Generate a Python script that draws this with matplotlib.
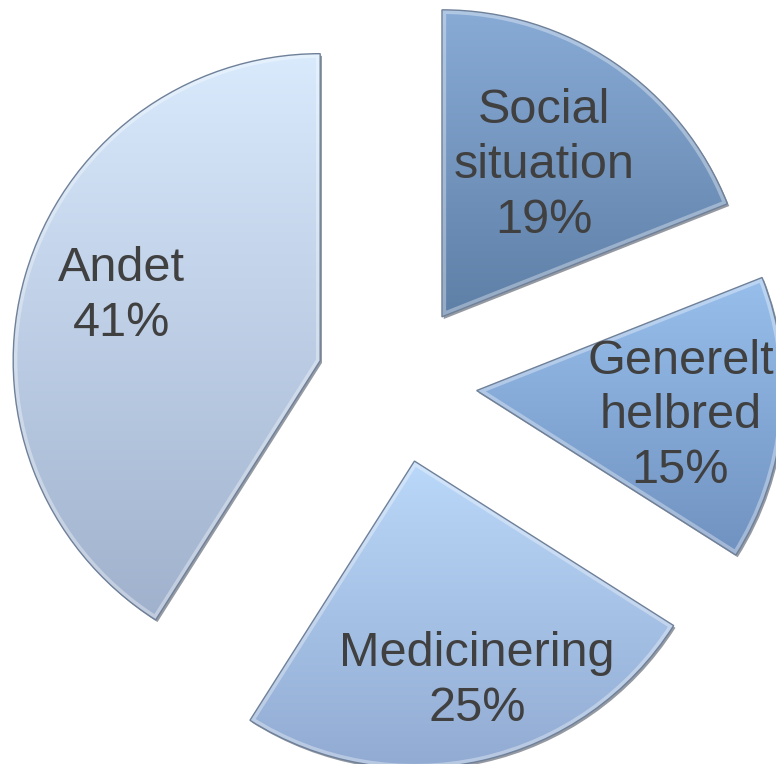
import matplotlib.pyplot as plt
import numpy as np
from matplotlib.colors import to_rgb
from matplotlib.patches import Wedge

# data
labels = ['Social\nsituation', 'Generelt\nhelbred', 'Medicinering', 'Andet']
shares = [19, 15, 25, 41]

# styles
top_colors = ['#88abd6', '#98bfec', '#bad8f9', '#d9eafd']
bottom_colors = ['#5e7fa6', '#7092c0', '#90a9d1', '#a0b1cd']
label_frac = [0.62, 0.67, 0.74, 0.70]
label_shift = [(-5, -6), (-1, -6), (13, 2), (8, 5)]

W, H = 776, 764
fig = plt.figure(figsize=(W / 100, H / 100), dpi=100)
ax = fig.add_axes([0, 0, 1, 1])

R = 307
# explode is in data units here (axes are in pixels)
wedges, _ = ax.pie(shares, startangle=90, counterclock=False, radius=R,
                   center=(397, H - 383), explode=[80] * 4,
                   wedgeprops=dict(edgecolor='#6f8099', linewidth=1.0))

for w, lab, val, c_top, c_bot, f, (dx, dy) in zip(
        wedges, labels, shares, top_colors, bottom_colors, label_frac, label_shift):
    cx, cy = w.center
    # soft shadow to the lower right, gives the bevel look
    sh = Wedge((cx + 1.8, cy - 2.2), R, w.theta1, w.theta2,
               facecolor='#3c4656', alpha=0.55, edgecolor='none', zorder=1)
    ax.add_patch(sh)

    verts = w.get_path().vertices
    x0, x1 = verts[:, 0].min(), verts[:, 0].max()
    y0, y1 = verts[:, 1].min(), verts[:, 1].max()
    t = np.linspace(0, 1, 256)[:, None, None]
    grad = (1 - t) * np.array(to_rgb(c_bot)) + t * np.array(to_rgb(c_top))
    im = ax.imshow(grad, extent=(x0, x1, y0, y1), origin='lower',
                   aspect='auto', zorder=2, interpolation='bilinear')
    im.set_clip_path(w)

    # light inner rim
    rim = Wedge((cx, cy), R, w.theta1, w.theta2, facecolor='none',
                edgecolor='white', alpha=0.35, linewidth=6, zorder=2.5)
    ax.add_patch(rim)
    rim.set_clip_path(w)

    w.set_facecolor('none')
    w.set_zorder(3)

    # label position inside the slice
    mid = np.deg2rad((w.theta1 + w.theta2) / 2)
    lx = cx + f * R * np.cos(mid) + dx
    ly = cy + f * R * np.sin(mid) + dy
    ax.text(lx, ly, f'{lab}\n{val}%', ha='center', va='center',
            fontsize=35, color='#404040', family='Liberation Sans',
            linespacing=1.28, zorder=4)

ax.set_xlim(0, W)
ax.set_ylim(0, H)
ax.set_aspect('equal')
ax.axis('off')

plt.savefig('out.png', dpi=100)
